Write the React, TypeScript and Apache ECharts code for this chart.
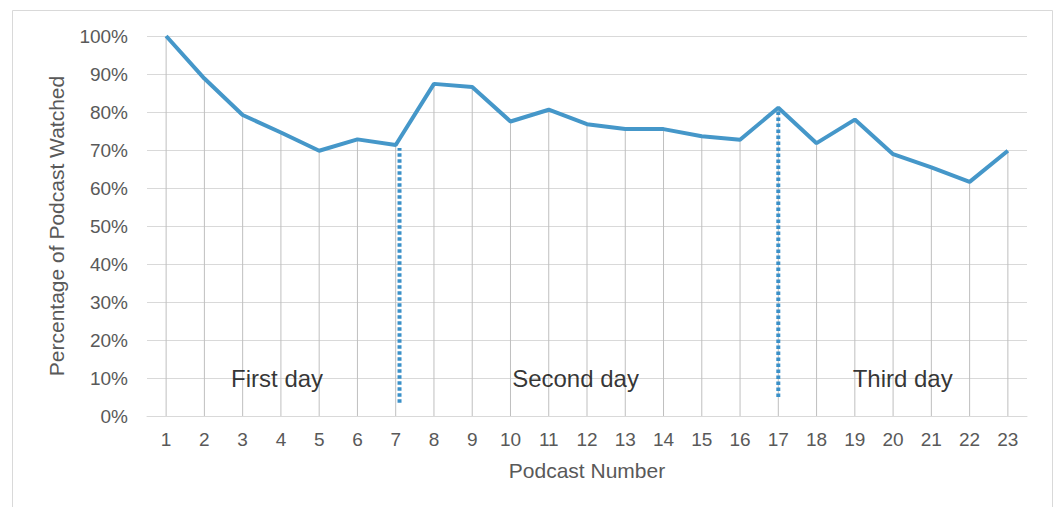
import React, { useEffect, useRef } from "react";
import * as echarts from "echarts";

const categories = ["1","2","3","4","5","6","7","8","9","10","11","12","13","14","15","16","17","18","19","20","21","22","23"];
const watched = [100, 88.8, 79.2, 74.6, 69.8, 72.8, 71.3, 87.4, 86.6, 77.5, 80.6, 76.8, 75.5, 75.5, 73.6, 72.7, 81.1, 71.8, 78.0, 68.9, 65.4, 61.6, 69.8];
const yTicks = [0, 10, 20, 30, 40, 50, 60, 70, 80, 90, 100];

// day separators: position on podcast axis, start (bottom) and end (top) percentages
const separatorX = [7.1, 17];
const separatorBottom = [3.5, 5];
const separatorTop = [70.5, 80.5];

// day annotations
const dayLabels = ["First day", "Second day", "Third day"];
const dayLabelX = [3.9, 11.7, 20.25];
const dayLabelY = [10, 10, 10];

const BLUE = "#4597c9";
const GRAY_TEXT = "#595959";
const FONT = "'Liberation Sans', Arial, sans-serif";

export default function App() {
  const ref = useRef<HTMLDivElement>(null);
  useEffect(() => {
    if (!ref.current) return;
    const chart = echarts.init(ref.current, null, { renderer: "svg" });
    const sepSeries = separatorX.map((x, i) => ({
      type: "line",
      xAxisIndex: 1,
      data: [[x, separatorBottom[i]], [x, separatorTop[i]]],
      symbol: "none",
      lineStyle: { color: "#3a90c8", width: 4, type: [3.5, 2.5], cap: "butt" },
      z: 4,
      silent: true,
    }));
    chart.setOption({
      animation: false,
      backgroundColor: "#fff",
      textStyle: { fontFamily: FONT },
      graphic: [
        {
          type: "rect",
          shape: { x: 12.5, y: 10.5, width: 1040, height: 520 },
          style: { fill: "none", stroke: "#d9d9d9", lineWidth: 1 },
          silent: true,
        },
      ],
      grid: { left: 147, right: 31, top: 36, bottom: 91, containLabel: false },
      xAxis: [
        {
          type: "category",
          data: categories,
          boundaryGap: true,
          name: "Podcast Number",
          nameLocation: "middle",
          nameGap: 44,
          nameTextStyle: { fontSize: 21, color: GRAY_TEXT, fontFamily: FONT },
          axisLine: { lineStyle: { color: "#d9d9d9", width: 1 } },
          axisTick: { show: false },
          axisLabel: { fontSize: 19, color: GRAY_TEXT, margin: 14, fontFamily: FONT },
          splitLine: { show: false },
        },
        {
          type: "value",
          min: 0.5,
          max: 23.5,
          show: false,
          splitLine: { show: false },
        },
      ],
      yAxis: {
        type: "value",
        min: 0,
        max: 100,
        interval: 10,
        name: "Percentage of Podcast Watched",
        nameLocation: "middle",
        nameRotate: 90,
        nameGap: 80,
        nameTextStyle: { fontSize: 21, color: GRAY_TEXT, fontFamily: FONT },
        axisLine: { show: false },
        axisTick: { show: false },
        axisLabel: {
          fontSize: 19,
          color: GRAY_TEXT,
          margin: 19,
          fontFamily: FONT,
          formatter: (v: number) => (yTicks.includes(v) ? v + "%" : ""),
        },
        splitLine: { lineStyle: { color: "#d9d9d9", width: 1 } },
      },
      series: [
        {
          type: "bar",
          data: watched,
          barWidth: 1,
          itemStyle: { color: "#bfbfbf" },
          silent: true,
          z: 2,
        },
        {
          type: "line",
          data: watched,
          symbol: "none",
          lineStyle: { color: BLUE, width: 4 },
          z: 5,
          silent: true,
        },
        ...sepSeries,
        {
          type: "scatter",
          xAxisIndex: 1,
          data: dayLabels.map((t, i) => ({ value: [dayLabelX[i], dayLabelY[i]], name: t })),
          symbol: "circle",
          symbolSize: 2,
          itemStyle: { color: "rgba(0,0,0,0)" },
          silent: true,
          z: 6,
          label: {
            show: true,
            position: "inside",
            formatter: (p: any) => p.name,
            fontSize: 24,
            color: "#000",
            fontFamily: FONT,
          },
        },
      ],
    });
    return () => chart.dispose();
  }, []);
  return (
    <div
      ref={ref}
      style={{ position: "fixed", left: 0, top: 0, width: 1058, height: 507 }}
    />
  );
}
